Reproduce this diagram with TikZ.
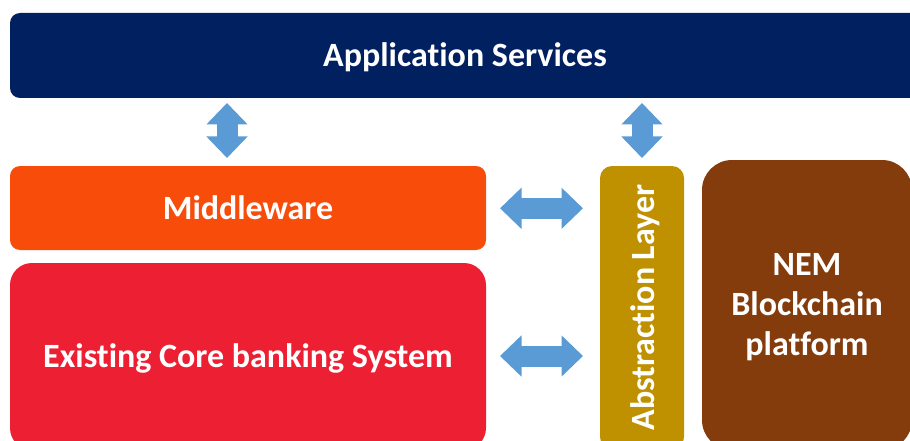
\documentclass[tikz,border=0pt]{standalone}
\usepackage{fontspec}
\setmainfont{Carlito}[Ligatures=NoCommon]
\usetikzlibrary{arrows.meta}
\definecolor{navy}{RGB}{0,32,96}
\definecolor{mworange}{RGB}{248,76,10}
\definecolor{corered}{RGB}{237,31,51}
\definecolor{gold}{RGB}{191,144,0}
\definecolor{brownnem}{RGB}{132,60,12}
\definecolor{arrowblue}{RGB}{91,155,213}
\tikzset{
  labelfont/.style={font=\bfseries\fontsize{34}{40}\selectfont},
  blockbox/.style={draw=none, fill=#1, inner sep=0pt},
  blocktext/.style={text=white, labelfont, align=center, inner sep=0pt},
  fat/.style={draw=arrowblue, line width=21pt, {Triangle[width=40pt,length=21.5pt]}-{Triangle[width=40pt,length=21.5pt]}}
}
\begin{document}
\begin{tikzpicture}[x=1pt,y=-1pt]
\useasboundingbox (0,0) rectangle (910,441);
\clip (0,0) rectangle (910,441);
\node[blockbox=navy, rounded corners=10pt, minimum width=910pt, minimum height=85pt] (app) at (465,55.5) {};
\node[blocktext, yshift=-2pt] (apptext) at (app.center) {Application Services};
\node[blockbox=mworange, rounded corners=10pt, minimum width=476pt, minimum height=84pt] (mw) at (248,208) {};
\node[blocktext] (mwtext) at (mw.center) {Middleware};
\node[blockbox=corered, rounded corners=22pt, minimum width=476pt, minimum height=187pt] (core) at (248,356.5) {};
\node[blocktext, yshift=-1.5pt] (coretext) at (core.center) {Existing Core banking System};
\node[blockbox=gold, rounded corners=12pt, minimum width=84pt, minimum height=283pt] (abs) at (642,307.5) {};
\node[blocktext, rotate=90, xshift=0pt, yshift=-3.5pt] (abstext) at (abs.center) {Abstraction Layer};
\node[blockbox=brownnem, rounded corners=30pt, minimum width=210pt, minimum height=290pt] (nem) at (807,305) {};
\node[blocktext, yshift=-2pt] (nemtext) at (nem.center) {NEM\\Blockchain\\platform};
\coordinate (v1t) at (227,103);
\coordinate (v1b) at (227,158);
\coordinate (v2t) at (642,103);
\coordinate (v2b) at (642,158);
\coordinate (h1l) at (500,208.3);
\coordinate (h1r) at (583,208.3);
\coordinate (h2l) at (500,356);
\coordinate (h2r) at (583,356);
\draw[fat] (v1t) -- (v1b);
\draw[fat] (v2t) -- (v2b);
\draw[fat] (h1l) -- (h1r);
\draw[fat] (h2l) -- (h2r);
\end{tikzpicture}
\end{document}
